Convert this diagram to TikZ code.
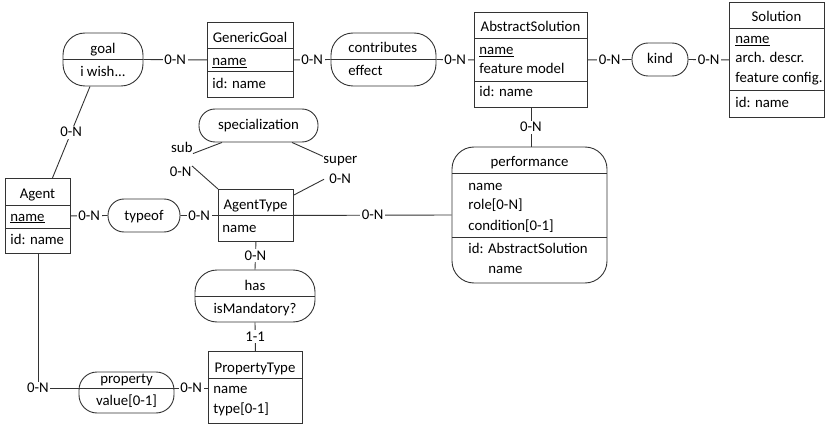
\documentclass[tikz,border=0pt]{standalone}
\usepackage{fontspec}
\setmainfont{Carlito}
\usetikzlibrary{calc}
\begin{document}
\begin{tikzpicture}[x=1pt,y=-1pt,line width=0.9pt,
  font=\fontsize{14.8}{19}\selectfont,
  ent/.style={draw=black!80,rectangle,inner sep=0pt,anchor=north west},
  rel/.style={draw=black!80,rectangle,inner sep=0pt,rounded corners=#1},
  rel/.default=16pt,
  lt/.style={anchor=base west,inner sep=0pt},
  ct/.style={anchor=base,inner sep=0pt},
  card/.style={fill=white,inner sep=1.5pt},
  link/.style={draw=black!80}]
\useasboundingbox (0,0) rectangle (825,425);

% ---------- entity types (top row) ----------
\node[ent,minimum width=86pt,minimum height=75pt] (gg) at (207,22) {};
\draw[link] (207,48) -- (293,48) (207,71) -- (293,71);
\node[ct] (gg-h) at (250,43) {GenericGoal};
\node[lt] (gg-a) at (212,66) {\underline{name}};
\node[lt] (gg-i) at (212,89) {id: name};

\node[ent,minimum width=113pt,minimum height=95pt] (as) at (474,12) {};
\draw[link] (474,38) -- (587,38) (474,81) -- (587,81);
\node[ct] (as-h) at (530.5,32) {AbstractSolution};
\node[lt] (as-a) at (479,55) {\underline{name}};
\node[lt] (as-b) at (479,74) {feature model};
\node[lt] (as-i) at (479,97) {id: name};

\node[ent,minimum width=95pt,minimum height=115pt] (sol) at (729,2) {};
\draw[link] (729,28) -- (824,28) (729,90) -- (824,90);
\node[ct] (sol-h) at (776.5,22) {Solution};
\node[lt] (sol-a) at (735,44) {\underline{name}};
\node[lt] (sol-b) at (735,63) {arch. descr.};
\node[lt] (sol-c) at (735,83) {feature config.};
\node[lt] (sol-i) at (735,108) {id: name};

% ---------- relationship types (top row) ----------
\node[rel=22pt,minimum width=80pt,minimum height=53pt] (goal) at (103,59.5) {};
\draw[link] (goal.west) -- (goal.east);
\node[ct] (goal-h) at (103,54) {goal};
\node[ct] (goal-a) at (103,77) {i wish...};

\node[rel=22pt,minimum width=105pt,minimum height=53pt] (contrib) at (383.5,59.5) {};
\draw[link] (contrib.west) -- (contrib.east);
\node[lt] (contrib-h) at (348,53) {contributes};
\node[lt] (contrib-a) at (348,76) {effect};

\node[rel,minimum width=56pt,minimum height=33pt] (kind) at (660,59.5) {};
\node[ct] (kind-h) at (660,64) {kind};

% ---------- middle row ----------
\node[ent,minimum width=65pt,minimum height=75pt] (ag) at (5,178) {};
\draw[link] (5,205) -- (70,205) (5,228) -- (70,228);
\node[ct] (ag-h) at (37.5,199) {Agent};
\node[lt] (ag-a) at (10,221) {\underline{name}};
\node[lt] (ag-i) at (10,244) {id: name};

\node[rel,minimum width=72pt,minimum height=33pt] (typeof) at (144,215.5) {};
\node[ct] (typeof-h) at (144,220) {typeof};

\node[ent,minimum width=75pt,minimum height=52pt] (at) at (218,189) {};
\draw[link] (218,215) -- (293,215);
\node[ct] (at-h) at (255.5,210) {AgentType};
\node[lt] (at-a) at (222,232) {name};

\node[rel,minimum width=119pt,minimum height=33pt] (spec) at (258.5,125.5) {};
\node[ct] (spec-h) at (258.5,130) {specialization};

\node[rel=22pt,minimum width=155pt,minimum height=136pt] (perf) at (529.5,215) {};
\draw[link] (452,173) -- (607,173) (452,237) -- (607,237);
\node[ct] (perf-h) at (529.5,167) {performance};
\node[lt] (perf-a) at (468,190) {name};
\node[lt] (perf-b) at (468,210) {role[0-N]};
\node[lt] (perf-c) at (468,230) {condition[0-1]};
\node[lt] (perf-i) at (468,253) {id: AbstractSolution};
\node[lt] (perf-j) at (488,273) {name};

% ---------- bottom row ----------
\node[rel=22pt,minimum width=120pt,minimum height=52pt] (has) at (255,296) {};
\draw[link] (has.west) -- (has.east);
\node[ct] (has-h) at (255,290) {has};
\node[ct] (has-a) at (255,313) {isMandatory?};

\node[ent,minimum width=94pt,minimum height=72pt] (pt) at (208,351) {};
\draw[link] (208,378) -- (302,378);
\node[ct] (pt-h) at (255,372) {PropertyType};
\node[lt] (pt-a) at (213,393) {name};
\node[lt] (pt-b) at (213,413) {type[0-1]};

\node[rel=18pt,minimum width=95pt,minimum height=41pt] (prop) at (126.5,392.5) {};
\coordinate (prop-l) at ($(prop.west)+(0,-4.5)$);
\coordinate (prop-r) at ($(prop.east)+(0,-4.5)$);
\draw[link] (prop-l) -- (prop-r);
\node[ct] (prop-h) at (126.5,383) {property};
\node[ct] (prop-a) at (126.5,405) {value[0-1]};

% ---------- connectors with cardinalities ----------
\draw[link] (goal.east) -- node[card] (c1) {0-N} (gg.west);
\draw[link] (gg.east) -- node[card] (c2) {0-N} (contrib.west);
\draw[link] (contrib.east) -- node[card] (c3) {0-N} (as.west);
\draw[link] (as.east) -- node[card] (c4) {0-N} (kind.west);
\draw[link] (kind.east) -- node[card] (c5) {0-N} (sol.west);
\draw[link] (as.south) -- node[card] (c6) {0-N} (as.south |- perf.north);

\coordinate (goal-b) at ($(goal.south)+(-13,0)$);
\coordinate (ag-t) at ($(ag.north)+(14.5,0)$);
\draw[link] (goal-b) -- node[card] (c7) {0-N} (ag-t);

\draw[link] (ag.east) -- node[card] (c8) {0-N} (typeof.west);
\draw[link] (typeof.east) -- node[card] (c9) {0-N} (at.west);
\draw[link] (at.east) -- node[card] (c10) {0-N} (perf.west);
\draw[link] (at.south) -- node[card] (c11) {0-N} (has.north);
\draw[link] (has.south) -- node[card] (c12) {1-1} (pt.north);

\draw[link] (ag.south) |- node[card,pos=0.5] (c13) {0-N} (prop-l);
\draw[link] (prop-r) -- node[card] (c14) {0-N} (prop-r -| pt.west);

% specialization roles
\node[anchor=base east,inner sep=0pt] (lsub) at (193,153) {sub};
\node[anchor=base east,inner sep=0pt] (lsubn) at (192,176) {0-N};
\node[anchor=base west,inner sep=0pt] (lsup) at (323,164) {super};
\node[anchor=base west,inner sep=0pt] (lsupn) at (329,184) {0-N};
\coordinate (spec-l) at ($(spec.south)+(-36.5,0)$);
\coordinate (spec-r) at ($(spec.south)+(33.5,0)$);
\coordinate (at-r) at ($(at.north east)+(0,6)$);
\draw[link] (spec-l) -- (lsub.south east);
\draw[link] (lsubn.north east) -- (at.north west);
\draw[link] (spec-r) -- (lsup.north west);
\draw[link] ($(lsupn.west)+(-5,0)$) -- (at-r);
\end{tikzpicture}
\end{document}
